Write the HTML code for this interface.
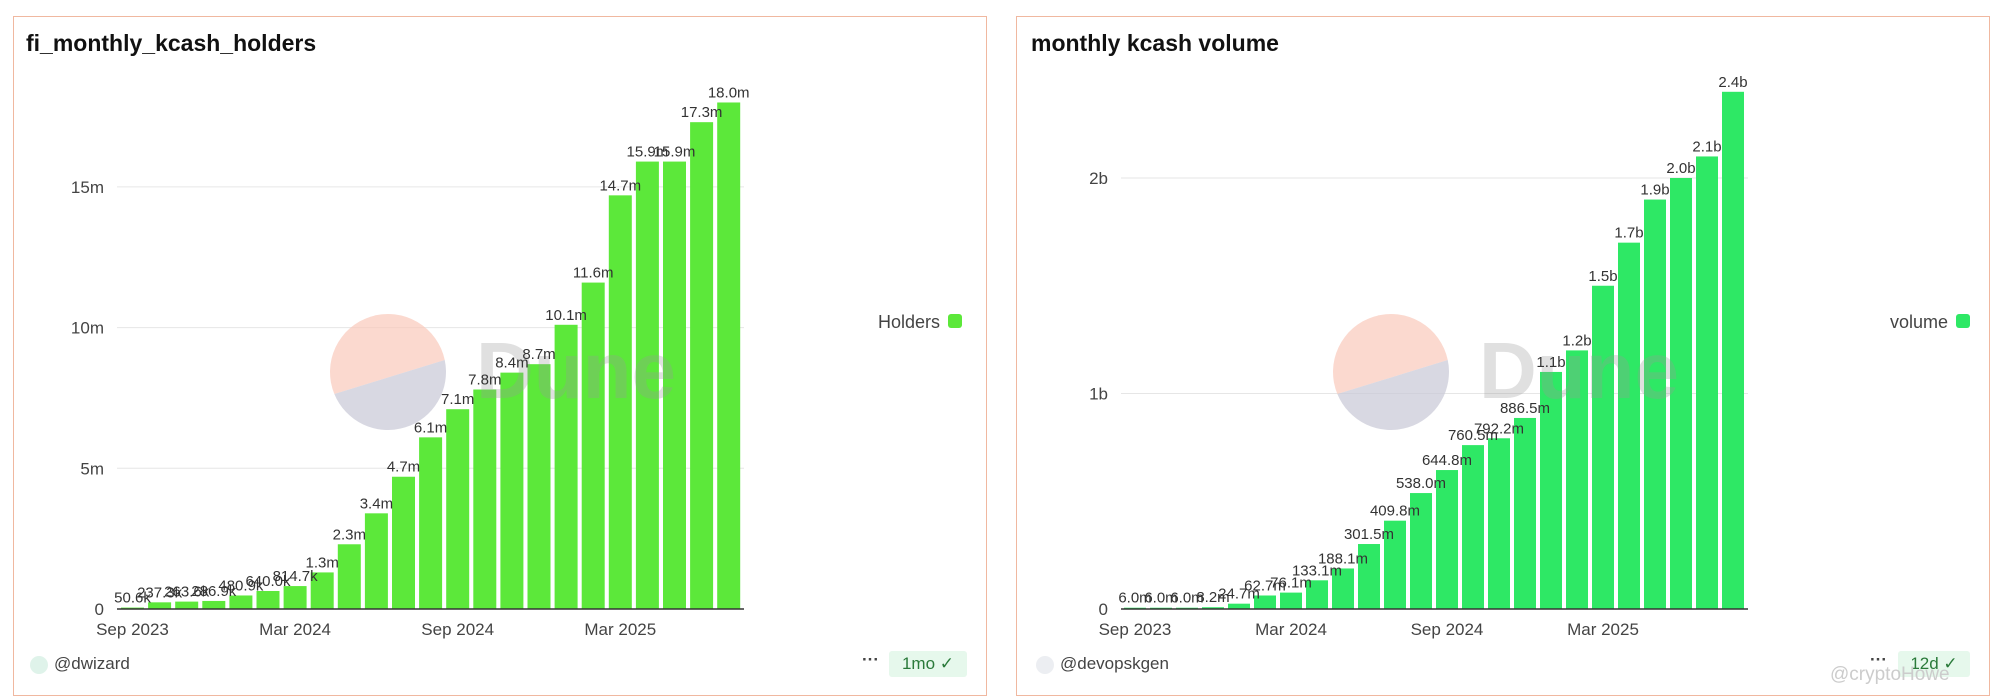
<!DOCTYPE html>
<html><head><meta charset="utf-8"><style>
body{margin:0;width:1996px;height:699px;background:#fff;font-family:"Liberation Sans",sans-serif;overflow:hidden;position:relative}
.panel{position:absolute;border:1.5px solid #f0b8a0;top:16px;height:678px;background:#fff}
.title{position:absolute;top:30px;font-size:23px;font-weight:bold;color:#111}
.foot{position:absolute;font-size:17px;color:#444}
svg{position:absolute;left:0;top:0}
</style></head><body>
<div class="panel" style="left:13px;width:972px"></div>
<div class="panel" style="left:1016px;width:972px"></div>
<div class="title" style="left:26px">fi_monthly_kcash_holders</div>
<div class="title" style="left:1031px">monthly kcash volume</div>
<div class="foot" style="left:30px;top:654px"><span style="display:inline-block;width:18px;height:18px;border-radius:50%;background:#dff3ea;vertical-align:middle;margin-right:6px"></span>@dwizard</div>
<div class="foot" style="left:1036px;top:654px"><span style="display:inline-block;width:18px;height:18px;border-radius:50%;background:#eceef2;vertical-align:middle;margin-right:6px"></span>@devopskgen</div>
<div class="foot" style="left:862px;top:650px;font-weight:bold">···</div>
<div class="foot" style="left:889px;top:651px;width:78px;height:26px;background:#e6f8ec;color:#2a7a3a;line-height:26px;text-align:center;border-radius:3px">1mo ✓</div>
<div class="foot" style="left:1870px;top:650px;font-weight:bold">···</div>
<div class="foot" style="left:1898px;top:651px;width:72px;height:26px;background:#e6f8ec;color:#2a7a3a;line-height:26px;text-align:center;border-radius:3px">12d ✓</div>
<div class="foot" style="left:1830px;top:664px;color:#ccc;font-size:19px">@cryptoHowe</div>
<svg id="chart" width="1996" height="699"></svg>
<script>
const holdersCats=["2023-09","2023-10","2023-11","2023-12","2024-01","2024-02","2024-03","2024-04","2024-05","2024-06","2024-07","2024-08","2024-09","2024-10","2024-11","2024-12","2025-01","2025-02","2025-03","2025-04","2025-05","2025-06","2025-07"];
const holdersVals=[0.0506,0.237,0.263,0.286,0.4809,0.64,0.8147,1.3,2.3,3.4,4.7,6.1,7.1,7.8,8.4,8.7,10.1,11.6,14.7,15.9,15.9,17.3,18.0];
const holdersLabels=["50.6k","237.3k","263.6k","286.9k","480.9k","640.0k","814.7k","1.3m","2.3m","3.4m","4.7m","6.1m","7.1m","7.8m","8.4m","8.7m","10.1m","11.6m","14.7m","15.9m","15.9m","17.3m","18.0m"];
const holdersTicks=[0,5,10,15];
const holdersTickLabels=["0","5m","10m","15m"];
const volumeCats=["2023-09","2023-10","2023-11","2023-12","2024-01","2024-02","2024-03","2024-04","2024-05","2024-06","2024-07","2024-08","2024-09","2024-10","2024-11","2024-12","2025-01","2025-02","2025-03","2025-04","2025-05","2025-06","2025-07","2025-08"];
const volumeVals=[0.006,0.006,0.006,0.0082,0.0247,0.0627,0.0761,0.1331,0.1881,0.3015,0.4098,0.538,0.6448,0.7605,0.7922,0.8865,1.1,1.2,1.5,1.7,1.9,2.0,2.1,2.4];
const volumeLabels=["6.0m","6.0m","6.0m","8.2m","24.7m","62.7m","76.1m","133.1m","188.1m","301.5m","409.8m","538.0m","644.8m","760.5m","792.2m","886.5m","1.1b","1.2b","1.5b","1.7b","1.9b","2.0b","2.1b","2.4b"];
const volumeTicks=[0,1,2];
const volumeTickLabels=["0","1b","2b"];
const xTickLabels=["Sep 2023","Mar 2024","Sep 2024","Mar 2025"];
const xTickIdx=[0,6,12,18];
const NS="http://www.w3.org/2000/svg";
const svg=document.getElementById('chart');
function mk(t,a,txt){const e=document.createElementNS(NS,t);for(const k in a)e.setAttribute(k,a[k]);if(txt!=null)e.textContent=txt;svg.appendChild(e);return e;}
function draw(o){
  const x=i=>o.x0+i*o.step;
  const y=v=>o.base-v*o.pxPer;
  o.ticks.forEach((t,i)=>{
    if(t>0){const g=mk('line',{x1:o.gridX0,x2:o.gridX1,y1:y(t),y2:y(t),stroke:'#e6e6e6'});
      }
    const l=mk('text',{x:o.yLabX,y:y(t)+6,'text-anchor':'end','font-size':17,fill:'#444'},o.tickLabels[i]);
    
  });
  o.vals.forEach((v,i)=>{
    const b=mk('rect',{x:x(i)-o.bw/2,y:y(v),width:o.bw,height:o.base-y(v),fill:o.color});
    
  });
  // watermark on top
  const r=58,cx=o.wx,cy=372;
  const yl=cy+22,yr=cy-12;
  const xl=cx-Math.sqrt(r*r-22*22),xr=cx+Math.sqrt(r*r-12*12);
  let c=mk('path',{d:`M${xl},${yl} A${r},${r} 0 1 1 ${xr},${yr} Z`,fill:'#f9c9bb','fill-opacity':0.7});
  
  c=mk('path',{d:`M${xl},${yl} L${xr},${yr} A${r},${r} 0 0 1 ${xl},${yl} Z`,fill:'#c8c8d6','fill-opacity':0.7});
  
  c=mk('text',{x:cx+88,y:398,'font-size':80,'font-weight':'bold',fill:'#999','fill-opacity':0.3},'Dune');
  
  o.vals.forEach((v,i)=>{
    const t=mk('text',{x:x(i),y:y(v)-5,'text-anchor':'middle','font-size':15,fill:'#333'},o.labels[i]);
    
  });
  const ax=mk('line',{x1:o.gridX0,x2:o.gridX1,y1:o.base,y2:o.base,stroke:'#333','stroke-width':1.5});
  
  xTickIdx.forEach((ix,i)=>{
    const t=mk('text',{x:x(ix),y:635,'text-anchor':'middle','font-size':17,fill:'#444'},xTickLabels[i]);
    
  });
  const lt=mk('text',{x:o.legX,y:328,'text-anchor':'end','font-size':18,fill:'#444'},o.legend);
  
  const ls=mk('rect',{x:o.legX+8,y:314,width:14,height:14,rx:3,fill:o.color});
  
}
draw({cats:holdersCats,vals:holdersVals,labels:holdersLabels,ticks:holdersTicks,tickLabels:holdersTickLabels,
  x0:132.5,step:27.1,bw:23,base:609,pxPer:140.7/5,color:'#5ce83a',gridX0:117,gridX1:744,yLabX:104,legX:940,legend:'Holders',wx:388});
draw({cats:volumeCats,vals:volumeVals,labels:volumeLabels,ticks:volumeTicks,tickLabels:volumeTickLabels,
  x0:1135,step:26,bw:22,base:609,pxPer:215.5,color:'#2ee865',gridX0:1121,gridX1:1748,yLabX:1108,legX:1948,legend:'volume',wx:1391});
</script>
</body></html>
